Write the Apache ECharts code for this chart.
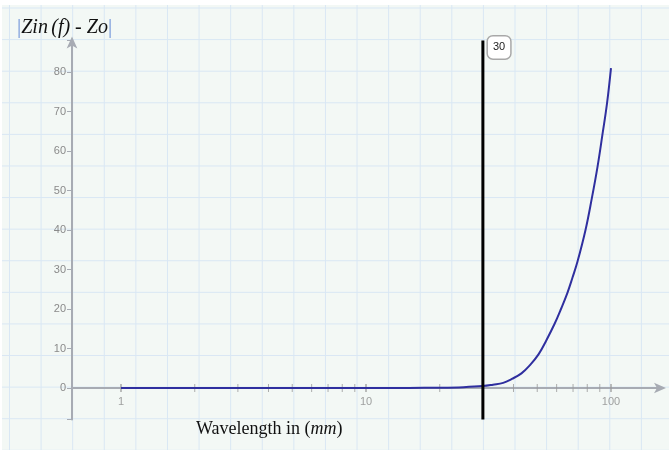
<!DOCTYPE html>
<html>
<head>
<meta charset="utf-8">
<script src="https://cdn.jsdelivr.net/npm/echarts@6/dist/echarts.min.js"></script>
<style>
  html, body { margin: 0; padding: 0; background: #ffffff; }
  #wrap { position: relative; width: 669px; height: 450px; overflow: hidden; }
  #bg {
    position: absolute; left: 2px; top: 5px; right: 0; bottom: 0;
    background-color: #f3f8f5;
    background-image:
      linear-gradient(to right, #d9e7f4 1px, transparent 1px),
      linear-gradient(to bottom, #d9e7f4 1px, transparent 1px);
    background-size: 31.6px 31.6px;
    background-position: 7px 2.5px;
  }
  #chart { position: absolute; left: 0; top: 0; width: 669px; height: 450px; }
</style>
</head>
<body>
<div id="wrap"><div id="bg"></div><div id="chart"></div></div>
<script>
// Curve samples: wavelength (mm) -> |Zin(f) - Zo|
const curveX = [1, 5, 10, 15, 20, 25, 30, 33, 36.3, 39.4, 43.1, 46.7, 50.6, 54.5, 58.8, 62.5, 66.4, 69.6, 73, 78.7, 83.5, 88.1, 92.2, 96.3, 100];
const curveY = [0, 0, 0, 0.02, 0.08, 0.22, 0.5, 0.85, 1.3, 2.3, 3.7, 5.8, 8.5, 12.1, 16.2, 20, 24.1, 27.9, 32, 40, 48, 56, 64, 72, 81];
// Vertical marker
const markerX = 30;
const markerLabel = '30';
// Axis tick values
const xTickValues = [1, 2, 3, 4, 5, 6, 7, 8, 9, 10, 20, 30, 40, 50, 60, 70, 80, 90, 100];
const xLabelValues = [1, 10, 100];
const yLabelValues = [0, 10, 20, 30, 40, 50, 60, 70, 80];
const xRange = [0.631, 158.5];
const yRange = [-8, 88];

const chart = echarts.init(document.getElementById('chart'), null, { renderer: 'canvas' });
const axisColor = '#a7abb3';
const labelColor = '#8a8a8a';
const serif = 'Liberation Serif, Times New Roman, serif';
const sans = 'Liberation Sans, Arial, sans-serif';

const option = {
  backgroundColor: 'transparent',
  animation: false,
  grid: { left: 72, right: 9, top: 40.4, bottom: 30.4, containLabel: false },
  xAxis: {
    type: 'log', logBase: 10, min: xRange[0], max: xRange[1],
    axisLine: { show: true, onZero: true, lineStyle: { color: axisColor, width: 2 },
      symbol: ['none', 'arrow'], symbolSize: [8, 12], symbolOffset: [0, 6] },
    axisTick: { show: false },
    splitLine: { show: false },
    minorTick: { show: false },
    axisLabel: { show: false }
  },
  yAxis: {
    type: 'value', min: yRange[0], max: yRange[1], splitNumber: 10,
    axisLine: { show: true, onZero: false, lineStyle: { color: axisColor, width: 2 },
      symbol: ['none', 'arrow'], symbolSize: [8, 12], symbolOffset: [0, 4] },
    axisTick: { show: true, length: 5, lineStyle: { color: axisColor, width: 1 } },
    splitLine: { show: false },
    axisLabel: {
      color: labelColor, fontSize: 11, fontFamily: sans, margin: 6,
      formatter: function (v) {
        const r = Math.round(v);
        return (yLabelValues.indexOf(r) >= 0 && Math.abs(v - r) < 1e-6) ? String(r) : '';
      }
    }
  },
  series: [
    {
      name: 'ticks', type: 'scatter', silent: true, z: 1,
      symbol: 'rect', symbolSize: [1, 8],
      itemStyle: { color: '#9a9a9a' },
      data: xTickValues.map(v => [v, 0])
    },
    {
      name: 'xlabels', type: 'scatter', silent: true, z: 1,
      symbol: 'rect', symbolSize: [1, 8],
      itemStyle: { color: '#9a9a9a' },
      label: {
        show: true, position: 'bottom', distance: 4,
        color: labelColor, fontSize: 11, fontFamily: sans,
        formatter: function (p) { return String(p.value[0]); }
      },
      data: xLabelValues.map(v => [v, 0])
    },
    {
      name: 'curve', type: 'line', z: 3,
      smooth: 0.4, showSymbol: false, symbol: 'none',
      lineStyle: { color: '#2f2f9f', width: 2 },
      data: curveX.map((x, i) => [x, curveY[i]])
    },
    {
      name: 'marker', type: 'line', z: 4, silent: true,
      symbol: 'circle', symbolSize: 0.1, showSymbol: true,
      lineStyle: { color: '#000000', width: 3 },
      itemStyle: { color: '#000000' },
      data: [
        [markerX, yRange[0]],
        {
          value: [markerX, yRange[1]],
          label: {
            show: true, position: 'right', distance: 5, offset: [0, 7],
            formatter: markerLabel,
            color: '#222', fontSize: 11, fontFamily: sans,
            backgroundColor: '#ffffff', borderColor: '#a8a8a8', borderWidth: 1.5, borderRadius: 5,
            padding: [6, 5, 5, 5]
          }
        }
      ]
    }
  ],
  graphic: [
    {
      type: 'text', left: 17, top: 17, silent: true,
      style: {
        text: '{b||}{i|Zin} {i|(f)}{n| - }{i|Zo}{b||}',
        rich: {
          b: { fontFamily: serif, fontSize: 21, fill: '#6f92d8' },
          i: { fontFamily: serif, fontSize: 20, fontStyle: 'italic', fill: '#111' },
          n: { fontFamily: serif, fontSize: 20, fill: '#111' }
        }
      }
    },
    {
      type: 'text', left: 196, top: 420, silent: true,
      style: {
        text: '{n|Wavelength in (}{i|mm}{n|)}',
        rich: {
          n: { fontFamily: serif, fontSize: 18, fill: '#111' },
          i: { fontFamily: serif, fontSize: 18, fontStyle: 'italic', fill: '#111' }
        }
      }
    }
  ]
};
chart.setOption(option);
</script>
</body>
</html>
